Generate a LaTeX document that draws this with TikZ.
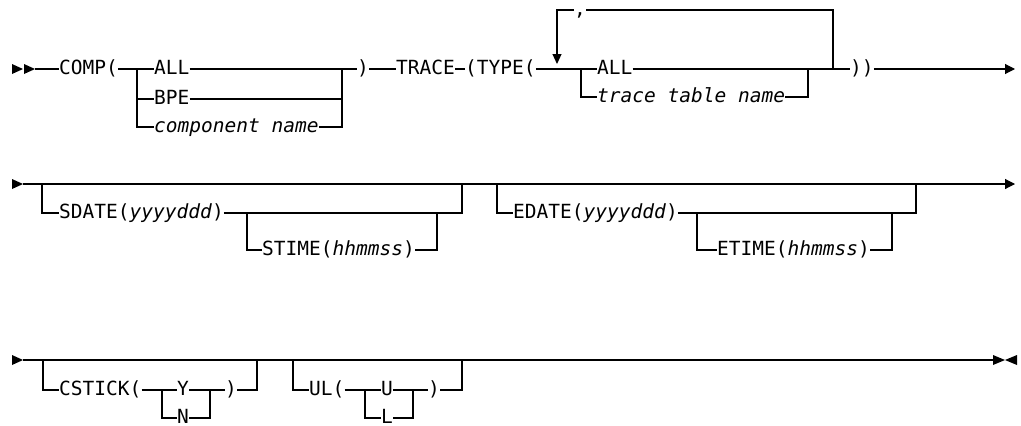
\documentclass[tikz,border=0pt]{standalone}
\usepackage{fontspec}
\setmonofont{DejaVu Sans Mono}
\usetikzlibrary{arrows.meta}

\tikzset{
  word/.style={font=\ttfamily\fontsize{19.5}{20}\selectfont, inner xsep=0pt, inner ysep=0pt, text height=10pt, text depth=0pt, anchor=west},
  var/.style={word, font=\ttfamily\itshape\fontsize{19.5}{20}\selectfont},
  rail/.style={line width=1.1pt},
  endtip/.style={-{Triangle[length=10pt,width=10pt]}},
  looptip/.style={-{Triangle[length=10pt,width=9pt]}},
}

\begin{document}
\begin{tikzpicture}[x=1pt,y=-1pt]
\useasboundingbox (0,0) rectangle (1021,426);

% first line: COMP and TRACE
\fill (12,64) -- (23,69) -- (12,74) -- cycle;
\fill (24,64) -- (35,69) -- (24,74) -- cycle;
\coordinate (s1) at (35,69);
\node[word] (comp) at (59,69) {COMP(};
\coordinate (b1) at (137,69);
\node[word] (all) at (154,69) {ALL};
\node[word] (bpe) at (154,99) {BPE};
\node[var] (cname) at (154,127) {component name};
\coordinate (j1) at (342,69);
\node[word] (rp1) at (357,69) {)};
\node[word] (trace) at (396,69) {TRACE};
\node[word] (type) at (465,69) {(TYPE(};
\coordinate (b2) at (581,69);
\node[word] (all2) at (597,69) {ALL};
\node[var] (ttn) at (597,97) {trace table name};
\coordinate (j2) at (808,69);
\coordinate (j3) at (833,69);
\coordinate (rep) at (557,64);
\node[word] (comma) at (574,10) {,};
\node[word] (rp2) at (850,69) {))};
\coordinate (e1) at (1015,69);

\draw[rail] (s1) -- (comp.west);
\draw[rail] (comp.east) -- (all.west);
\draw[rail] (b1) |- (bpe.west);
\draw[rail] (b1) |- (cname.west);
\draw[rail] (all.east) -- (rp1.west);
\draw[rail] (bpe.east) -| (j1);
\draw[rail] (cname.east) -| (j1);
\draw[rail] (rp1.east) -- (trace.west);
\draw[rail] (trace.east) -- (type.west);
\draw[rail] (type.east) -- (all2.west);
\draw[rail] (b2) |- (ttn.west);
\draw[rail] (ttn.east) -| (j2);
\draw[rail] (all2.east) -- (rp2.west);
\draw[rail,looptip] (comma.west) -| (rep);
\draw[rail] (comma.east) -| (j3);
\draw[rail,endtip] (rp2.east) -- (e1);

% second line: start and end dates
\fill (12,179) -- (23,184) -- (12,189) -- cycle;
\coordinate (s2) at (23,184);
\coordinate (e2) at (1015,184);
\draw[rail,endtip] (s2) -- (e2);

\coordinate (o1) at (42,184);
\node[word] (sdate) at (59,213) {SDATE(\textit{yyyyddd})};
\coordinate (o2) at (247,213);
\node[word] (stime) at (262,250) {STIME(\textit{hhmmss})};
\coordinate (o3) at (437,213);
\coordinate (o4) at (462,184);
\draw[rail] (o1) |- (sdate.west);
\draw[rail] (sdate.east) -| (o4);
\draw[rail] (o2) |- (stime.west);
\draw[rail] (stime.east) -| (o3);

\coordinate (o5) at (497,184);
\node[word] (edate) at (513,213) {EDATE(\textit{yyyyddd})};
\coordinate (o6) at (697,213);
\node[word] (etime) at (717,250) {ETIME(\textit{hhmmss})};
\coordinate (o7) at (892,213);
\coordinate (o8) at (916,184);
\draw[rail] (o5) |- (edate.west);
\draw[rail] (edate.east) -| (o8);
\draw[rail] (o6) |- (etime.west);
\draw[rail] (etime.east) -| (o7);

% third line: CSTICK and UL
\fill (12,355) -- (23,360) -- (12,365) -- cycle;
\coordinate (s3) at (23,360);
\coordinate (e3) at (993,360);
\draw[rail] (s3) -- (e3);
\fill (993,355) -- (1005,360) -- (993,365) -- cycle;
\fill (1017,355) -- (1005,360) -- (1017,365) -- cycle;

\coordinate (c1) at (43,360);
\node[word] (cstick) at (59,390) {CSTICK(};
\coordinate (c2) at (162,390);
\node[word] (yes) at (177,390) {Y};
\node[word] (no) at (177,418) {N};
\coordinate (c3) at (210,390);
\node[word] (rp3) at (225,390) {)};
\coordinate (c4) at (257,360);
\draw[rail] (c1) |- (cstick.west);
\draw[rail] (cstick.east) -- (yes.west);
\draw[rail] (c2) |- (no.west);
\draw[rail] (yes.east) -- (rp3.west);
\draw[rail] (no.east) -| (c3);
\draw[rail] (rp3.east) -| (c4);

\coordinate (u1) at (293,360);
\node[word] (ul) at (309,390) {UL(};
\coordinate (u2) at (365,390);
\node[word] (uu) at (381,390) {U};
\node[word] (ll) at (381,418) {L};
\coordinate (u3) at (413,390);
\node[word] (rp4) at (428,390) {)};
\coordinate (u4) at (462,360);
\draw[rail] (u1) |- (ul.west);
\draw[rail] (ul.east) -- (uu.west);
\draw[rail] (u2) |- (ll.west);
\draw[rail] (uu.east) -- (rp4.west);
\draw[rail] (ll.east) -| (u3);
\draw[rail] (rp4.east) -| (u4);
\end{tikzpicture}
\end{document}
